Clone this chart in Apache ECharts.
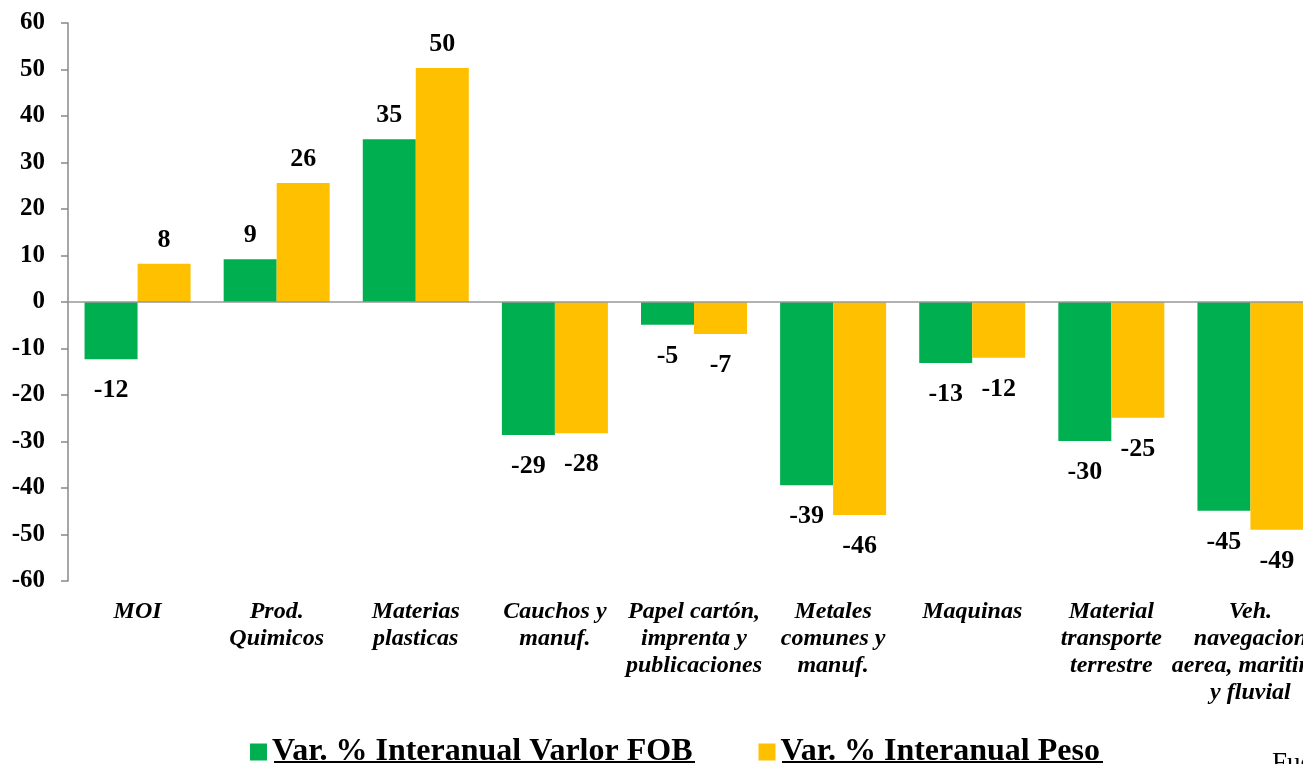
<!DOCTYPE html>
<html><head><meta charset="utf-8">
<script src="https://cdn.jsdelivr.net/npm/echarts@6/dist/echarts.min.js"></script>
<style>html,body{margin:0;padding:0;background:#fff;overflow:hidden}#c{width:1303px;height:764px}</style>
</head><body><div id="c"></div>
<script>
const categories = ['MOI','Prod.\nQuimicos','Materias\nplasticas','Cauchos y\nmanuf.','Papel cartón,\nimprenta y\npublicaciones','Metales\ncomunes y\nmanuf.','Maquinas','Material\ntransporte\nterrestre','Veh.\nnavegacion\naerea, maritima\ny fluvial'];
const fobValues = [-12.3, 9.2, 35.0, -28.6, -4.9, -39.4, -13.1, -29.9, -44.9];
const pesoValues = [8.2, 25.6, 50.3, -28.2, -6.9, -45.8, -12.0, -24.9, -49.0];
const seriesNames = ['Var. % Interanual Varlor FOB', 'Var. % Interanual Peso'];
const yTicks = {min: -60, max: 60, interval: 10};

const FONT = '"Liberation Serif", "Times New Roman", serif';
const chart = echarts.init(document.getElementById('c'));
function mkData(arr){
  return arr.map(v => ({value: v, label: {position: v >= 0 ? 'top' : 'bottom', distance: v >= 0 ? 11 : 18}}));
}
const labelCfg = {show: true, color: '#000', fontFamily: FONT, fontWeight: 'bold', fontSize: 26,
  formatter: p => String(Math.round(p.value))};
chart.setOption({
  animation: false,
  grid: {left: 68, width: 1252, top: 23, bottom: 183, containLabel: false, outerBoundsMode: 'none'},
  legend: {
    top: 731, left: 245, itemWidth: 17, itemHeight: 17, itemGap: 66,
    icon: 'rect',
    textStyle: {fontFamily: FONT, fontWeight: 'bold', fontSize: 32, color: '#000', padding: [0,0,0,0]},
    data: seriesNames
  },
  xAxis: {
    type: 'category', data: categories,
    axisLine: {show: false, onZero: false}, axisTick: {show: false},
    axisLabel: {interval: 0, margin: 17, fontFamily: FONT, fontWeight: 'bold', fontStyle: 'italic', fontSize: 24, lineHeight: 27, color: '#000'}
  },
  yAxis: {
    type: 'value', min: yTicks.min, max: yTicks.max, interval: yTicks.interval,
    splitLine: {show: false},
    axisLine: {show: true, lineStyle: {color: '#888', width: 1.5}},
    axisTick: {show: true, length: 7, lineStyle: {color: '#888', width: 1.5}},
    axisLabel: {margin: 23, fontFamily: FONT, fontWeight: 'bold', fontSize: 25, color: '#000'}
  },
  series: [
    {name: seriesNames[0], type: 'bar', data: mkData(fobValues), barWidth: 53, barGap: '0%',
      itemStyle: {color: '#00B050'}, label: labelCfg,
      markLine: {silent: true, symbol: 'none', label: {show: false}, lineStyle: {color: '#999', width: 1.5, type: 'solid'}, data: [{yAxis: 0}]}},
    {name: seriesNames[1], type: 'bar', data: mkData(pesoValues), barWidth: 53, barGap: '0%',
      itemStyle: {color: '#FFC000'}, label: labelCfg}
  ],
  graphic: [
    {type: 'text', left: 1272, top: 750, style: {text: 'Fuente: INDEC', font: '27px ' + FONT, fill: '#000'}},
    {type: 'line', shape: {x1: 274, y1: 762, x2: 695, y2: 762}, style: {stroke: '#000', lineWidth: 2}},
    {type: 'line', shape: {x1: 782, y1: 762, x2: 1103, y2: 762}, style: {stroke: '#000', lineWidth: 2}}
  ]
});
</script></body></html>
